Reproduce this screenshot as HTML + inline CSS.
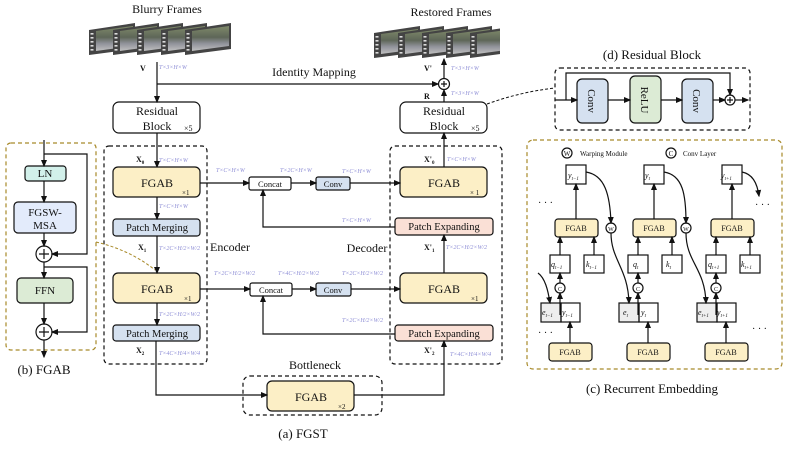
<!DOCTYPE html>
<html><head><meta charset="utf-8"><style>
html,body{margin:0;padding:0;background:#fff}
svg, svg text{font-family:"Liberation Serif","Times New Roman","DejaVu Serif",serif}
.d{font-size:6px;font-style:italic;fill:#8f8fd6}
</style></head><body>
<svg width="789" height="447" viewBox="0 0 789 447" xmlns="http://www.w3.org/2000/svg" font-family="Liberation Serif, Times New Roman, DejaVu Serif, serif">
<defs>
<marker id="a" markerWidth="6" markerHeight="6" refX="5" refY="3" orient="auto"><path d="M0,0.5 L6,3 L0,5.5z" fill="#111"/></marker>
<linearGradient id="ph" x1="0" y1="0" x2="0" y2="1"><stop offset="0" stop-color="#7f8a6a"/><stop offset="0.45" stop-color="#5e6658"/><stop offset="0.7" stop-color="#90929a"/><stop offset="1" stop-color="#c0c0c0"/></linearGradient>
<g id="fr"><polygon points="0,7 46,0 46,26 0,32" fill="#444"/><polygon points="7,8 44,3 44,23 7,28" fill="url(#ph)"/>
<g fill="#ddd"><rect x="1.5" y="10" width="3" height="1.6"/><rect x="1.5" y="14" width="3" height="1.6"/><rect x="1.5" y="18" width="3" height="1.6"/><rect x="1.5" y="22" width="3" height="1.6"/><rect x="1.5" y="26" width="3" height="1.6"/></g></g>
</defs>
<g fill="none" stroke="#111" stroke-width="1.2">
<g stroke="none"><use href="#fr" x="89" y="23"/><use href="#fr" x="113" y="23"/><use href="#fr" x="137" y="23"/><use href="#fr" x="161" y="23"/><use href="#fr" x="185" y="23"/></g>
<g stroke="none"><use href="#fr" x="374" y="26"/><use href="#fr" x="398" y="26"/><use href="#fr" x="422" y="26"/><use href="#fr" x="446" y="26"/><use href="#fr" x="470" y="26"/></g>
<rect x="500" y="20" width="20" height="40" fill="#fff" stroke="none"/>
<line x1="157" y1="62" x2="157" y2="102" marker-end="url(#a)"/>
<line x1="157" y1="84" x2="438" y2="84" marker-end="url(#a)"/>
<circle cx="444" cy="84" r="5.5"/><path d="M441,84h6M444,81v6"/>
<line x1="444" y1="78" x2="444" y2="59" marker-end="url(#a)"/>
<line x1="444" y1="102" x2="444" y2="90" marker-end="url(#a)"/>
<rect x="113" y="102" width="87" height="31" rx="6"/>
<rect x="400" y="102" width="87" height="31" rx="6"/>
<line x1="157" y1="133" x2="157" y2="167" marker-end="url(#a)"/>
<line x1="444" y1="167" x2="444" y2="133" marker-end="url(#a)"/>
<rect x="104" y="146" width="103" height="218" rx="5" stroke-dasharray="4,3"/>
<rect x="390" y="146" width="112" height="218" rx="5" stroke-dasharray="4,3"/>
<rect x="243" y="376" width="139" height="39" rx="7" stroke-dasharray="4,3"/>
<g fill="#fcefc6"><rect x="113" y="167" width="87" height="30" rx="5"/><rect x="113" y="273" width="87" height="30" rx="5"/><rect x="400" y="167" width="87" height="30" rx="5"/><rect x="400" y="273" width="87" height="30" rx="5"/><rect x="267" y="381" width="87" height="30" rx="5"/></g>
<g fill="#d5e1f0"><rect x="113" y="219" width="87" height="17" rx="3"/><rect x="113" y="325" width="87" height="16" rx="3"/><rect x="316" y="177" width="34" height="13" rx="2"/><rect x="316" y="283" width="35" height="13" rx="2"/></g>
<g fill="#fae0d6"><rect x="395" y="218" width="98" height="17" rx="3"/><rect x="395" y="325" width="98" height="16" rx="3"/></g>
<rect x="249" y="177" width="42" height="13" rx="2"/><rect x="250" y="283" width="42" height="13" rx="2"/>
<line x1="157" y1="197" x2="157" y2="219" marker-end="url(#a)"/>
<line x1="157" y1="236" x2="157" y2="273" marker-end="url(#a)"/>
<line x1="157" y1="303" x2="157" y2="325" marker-end="url(#a)"/>
<line x1="200" y1="183" x2="249" y2="183" marker-end="url(#a)"/>
<line x1="291" y1="183" x2="316" y2="183" marker-end="url(#a)"/>
<line x1="350" y1="183" x2="400" y2="183" marker-end="url(#a)"/>
<line x1="200" y1="289" x2="250" y2="289" marker-end="url(#a)"/>
<line x1="292" y1="289" x2="316" y2="289" marker-end="url(#a)"/>
<line x1="351" y1="289" x2="400" y2="289" marker-end="url(#a)"/>
<polyline points="395,227 263,227 263,190" marker-end="url(#a)"/>
<polyline points="395,334 263,334 263,296" marker-end="url(#a)"/>
<line x1="444" y1="273" x2="444" y2="235" marker-end="url(#a)"/>
<polyline points="156,341 156,395 267,395" marker-end="url(#a)"/>
<polyline points="354,395 444,395 444,341" marker-end="url(#a)"/>
<rect x="6" y="143" width="90" height="207" rx="5" stroke="#a88a2a" stroke-dasharray="4,3"/>
<rect x="25" y="166" width="41" height="15" rx="3" fill="#d2f0ea"/>
<rect x="14" y="202" width="62" height="31" rx="4" fill="#e3ebfb"/>
<rect x="17" y="278" width="56" height="25" rx="4" fill="#dcebd5"/>
<line x1="44" y1="140" x2="44" y2="166" marker-end="url(#a)"/>
<line x1="44" y1="181" x2="44" y2="202" marker-end="url(#a)"/>
<line x1="44" y1="233" x2="44" y2="246" marker-end="url(#a)"/>
<circle cx="44" cy="254" r="8"/><path d="M39,254h10M44,249v10"/>
<polyline points="44,154 87,154 87,254 52,254" marker-end="url(#a)"/>
<line x1="44" y1="262" x2="44" y2="278" marker-end="url(#a)"/>
<line x1="44" y1="303" x2="44" y2="324" marker-end="url(#a)"/>
<circle cx="44" cy="332" r="8"/><path d="M39,332h10M44,327v10"/>
<polyline points="44,267 87,267 87,332 52,332" marker-end="url(#a)"/>
<line x1="44" y1="340" x2="44" y2="357" marker-end="url(#a)"/>
<path d="M96,242 Q130,250 155,270" stroke="#a88a2a" stroke-dasharray="3,2" stroke-width="1"/>
<rect x="555" y="68" width="195" height="62" rx="5" stroke-dasharray="4,3"/>
<rect x="577" y="79" width="31" height="44" rx="5" fill="#d5e1f0"/>
<rect x="630" y="76" width="31" height="47" rx="5" fill="#dcebd5"/>
<rect x="682" y="79" width="31" height="44" rx="5" fill="#d5e1f0"/>
<line x1="555" y1="100" x2="577" y2="100" marker-end="url(#a)"/>
<line x1="608" y1="100" x2="630" y2="100" marker-end="url(#a)"/>
<line x1="661" y1="100" x2="682" y2="100" marker-end="url(#a)"/>
<line x1="713" y1="100" x2="725" y2="100" marker-end="url(#a)"/>
<circle cx="730" cy="100" r="5"/><path d="M727,100h6M730,97v6"/>
<polyline points="566,100 566,73 730,73 730,95" marker-end="url(#a)"/>
<line x1="735" y1="100" x2="748" y2="100" marker-end="url(#a)"/>
<path d="M487,104 Q520,92 555,88" stroke-dasharray="3,2" stroke-width="1"/>
<rect x="527" y="140" width="255" height="229" rx="6" stroke="#a88a2a" stroke-dasharray="4,3"/>
<circle cx="567" cy="153" r="5"/><circle cx="671" cy="153" r="5"/>
<g id="col">
<rect x="566" y="165" width="20" height="19" fill="#fff"/>
<rect x="555" y="219" width="43" height="18" rx="3" fill="#fcefc6"/>
<rect x="550" y="255" width="20" height="18"/>
<rect x="584" y="255" width="20" height="18"/>
<rect x="541" y="303" width="20" height="19" fill="#eee"/><rect x="561" y="303" width="19" height="19"/>
<rect x="549" y="343" width="43" height="18" rx="3" fill="#fcefc6"/>
<line x1="576" y1="219" x2="576" y2="184" marker-end="url(#a)"/>
<line x1="560" y1="255" x2="560" y2="237" marker-end="url(#a)"/>
<line x1="594" y1="255" x2="594" y2="237" marker-end="url(#a)"/>
<line x1="560" y1="283" x2="560" y2="273" marker-end="url(#a)"/>
<circle cx="560" cy="288" r="5"/>
<line x1="560" y1="315" x2="560" y2="293" marker-end="url(#a)"/>
<line x1="570" y1="343" x2="570" y2="322" marker-end="url(#a)"/>
</g>
<use href="#col" x="78"/><use href="#col" x="156"/>
<path d="M586,172 C605,175 610,195 611,223" marker-end="url(#a)"/>
<circle cx="611" cy="228" r="5"/>
<path d="M611,233 C611,260 628,268 629,303" marker-end="url(#a)"/>
<path d="M664,172 C683,175 686,195 686,223" marker-end="url(#a)"/>
<circle cx="686" cy="228" r="5"/>
<path d="M686,233 C686,262 705,268 706,303" marker-end="url(#a)"/>
<path d="M742,172 C752,174 757,182 759,196" marker-end="url(#a)"/>
<path d="M538,273 C545,278 548,290 550,303" marker-end="url(#a)"/>
</g>
<g font-size="12" text-anchor="middle" fill="#111">
<text x="167" y="13">Blurry Frames</text>
<text x="451" y="16">Restored Frames</text>
<text x="314" y="76">Identity Mapping</text>
<text x="157" y="115">Residual</text><text x="157" y="130">Block</text>
<text x="444" y="115">Residual</text><text x="444" y="130">Block</text>
<text x="157" y="187">FGAB</text><text x="157" y="293">FGAB</text>
<text x="444" y="187">FGAB</text><text x="444" y="293">FGAB</text>
<text x="311" y="401">FGAB</text>
<text x="157" y="231" font-size="10.5">Patch Merging</text>
<text x="157" y="337" font-size="10.5">Patch Merging</text>
<text x="444" y="230" font-size="10.5">Patch Expanding</text>
<text x="444" y="337" font-size="10.5">Patch Expanding</text>
<text x="270" y="187" font-size="8.5">Concat</text><text x="271" y="293" font-size="8.5">Concat</text>
<text x="333" y="187" font-size="8.5">Conv</text><text x="333" y="293" font-size="8.5">Conv</text>
<text x="230" y="251">Encoder</text><text x="367" y="252">Decoder</text>
<text x="315" y="369">Bottleneck</text>
<text x="303" y="438" font-size="13">(a) FGST</text>
<text x="44" y="374" font-size="13">(b) FGAB</text>
<text x="45" y="177" font-size="11">LN</text>
<text x="45" y="216" font-size="11">FGSW-</text><text x="45" y="229" font-size="11">MSA</text>
<text x="45" y="294" font-size="11">FFN</text>
<text x="652" y="59" font-size="13">(d) Residual Block</text>
<text x="652" y="393" font-size="13">(c) Recurrent Embedding</text>
<g font-size="11">
<text transform="translate(588,101) rotate(90)">Conv</text>
<text transform="translate(641,100) rotate(90)">ReLU</text>
<text transform="translate(693,101) rotate(90)">Conv</text>
</g>
<g font-size="8">
<text x="576" y="231">FGAB</text><text x="654" y="231">FGAB</text><text x="732" y="231">FGAB</text>
<text x="570" y="355">FGAB</text><text x="648" y="355">FGAB</text><text x="726" y="355">FGAB</text>
<text x="567" y="156" font-size="7">W</text><text x="671" y="156" font-size="7">C</text>
<text x="560" y="291" font-size="6">C</text><text x="638" y="291" font-size="6">C</text><text x="716" y="291" font-size="6">C</text>
<text x="611" y="231" font-size="6">W</text><text x="686" y="231" font-size="6">W</text>
</g>
</g>
<g font-size="7" fill="#111">
<text x="580" y="156">Warping Module</text><text x="683" y="156">Conv Layer</text>
<g font-style="italic" font-size="8">
<text x="568" y="178">y<tspan font-size="5" dy="2">t−1</tspan></text>
<text x="645" y="178">y<tspan font-size="5" dy="2">t</tspan></text>
<text x="721" y="178">y<tspan font-size="5" dy="2">t+1</tspan></text>
<text x="551" y="267">q<tspan font-size="5" dy="2">t−1</tspan></text>
<text x="586" y="267">k<tspan font-size="5" dy="2">t−1</tspan></text>
<text x="633" y="267">q<tspan font-size="5" dy="2">t</tspan></text>
<text x="666" y="267">k<tspan font-size="5" dy="2">t</tspan></text>
<text x="708" y="267">q<tspan font-size="5" dy="2">t+1</tspan></text>
<text x="741" y="267">k<tspan font-size="5" dy="2">t+1</tspan></text>
<text x="542" y="315">e<tspan font-size="5" dy="2">t−1</tspan></text><text x="562" y="315">y<tspan font-size="5" dy="2">t−1</tspan></text>
<text x="623" y="315">e<tspan font-size="5" dy="2">t</tspan></text><text x="641" y="315">y<tspan font-size="5" dy="2">t</tspan></text>
<text x="698" y="315">e<tspan font-size="5" dy="2">t+1</tspan></text><text x="717" y="315">y<tspan font-size="5" dy="2">t+1</tspan></text>
</g>
<text x="538" y="206" font-size="10">· · ·</text><text x="538" y="336" font-size="10">· · ·</text>
<text x="755" y="208" font-size="10">· · ·</text><text x="752" y="332" font-size="10">· · ·</text>
<g font-weight="bold" font-size="8">
<text x="140" y="71">V</text><text x="424" y="71">V'</text><text x="424" y="99">R</text>
<text x="136" y="162">X<tspan font-size="5" dy="2">0</tspan></text>
<text x="138" y="250">X<tspan font-size="5" dy="2">1</tspan></text>
<text x="136" y="353">X<tspan font-size="5" dy="2">2</tspan></text>
<text x="424" y="162">X'<tspan font-size="5" dy="2">0</tspan></text>
<text x="424" y="250">X'<tspan font-size="5" dy="2">1</tspan></text>
<text x="424" y="353">X'<tspan font-size="5" dy="2">2</tspan></text>
</g>
<text x="184" y="131" font-size="8">×5</text><text x="471" y="131" font-size="8">×5</text>
<text x="182" y="195" font-size="7">×1</text><text x="184" y="301" font-size="7">×1</text>
<text x="470" y="195" font-size="7">× 1</text><text x="471" y="301" font-size="7">×1</text>
<text x="338" y="409" font-size="7">×2</text>
</g>
<g class="d">
<text x="159" y="69">T×3×H×W</text><text x="451" y="70">T×3×H×W</text><text x="451" y="95">T×3×H×W</text>
<text x="159" y="162">T×C×H×W</text><text x="447" y="161">T×C×H×W</text>
<text x="159" y="208">T×C×H×W</text>
<text x="216" y="172">T×C×H×W</text><text x="280" y="172">T×2C×H×W</text><text x="342" y="173">T×C×H×W</text>
<text x="342" y="222">T×C×H×W</text>
<text x="159" y="250">T×2C×H/2×W/2</text><text x="159" y="316">T×2C×H/2×W/2</text>
<text x="214" y="275">T×2C×H/2×W/2</text><text x="278" y="275">T×4C×H/2×W/2</text><text x="342" y="275">T×2C×H/2×W/2</text>
<text x="342" y="322">T×2C×H/2×W/2</text><text x="446" y="249">T×2C×H/2×W/2</text>
<text x="159" y="355">T×4C×H/4×W/4</text><text x="450" y="356">T×4C×H/4×W/4</text>
</g>
</svg>
</body></html>
